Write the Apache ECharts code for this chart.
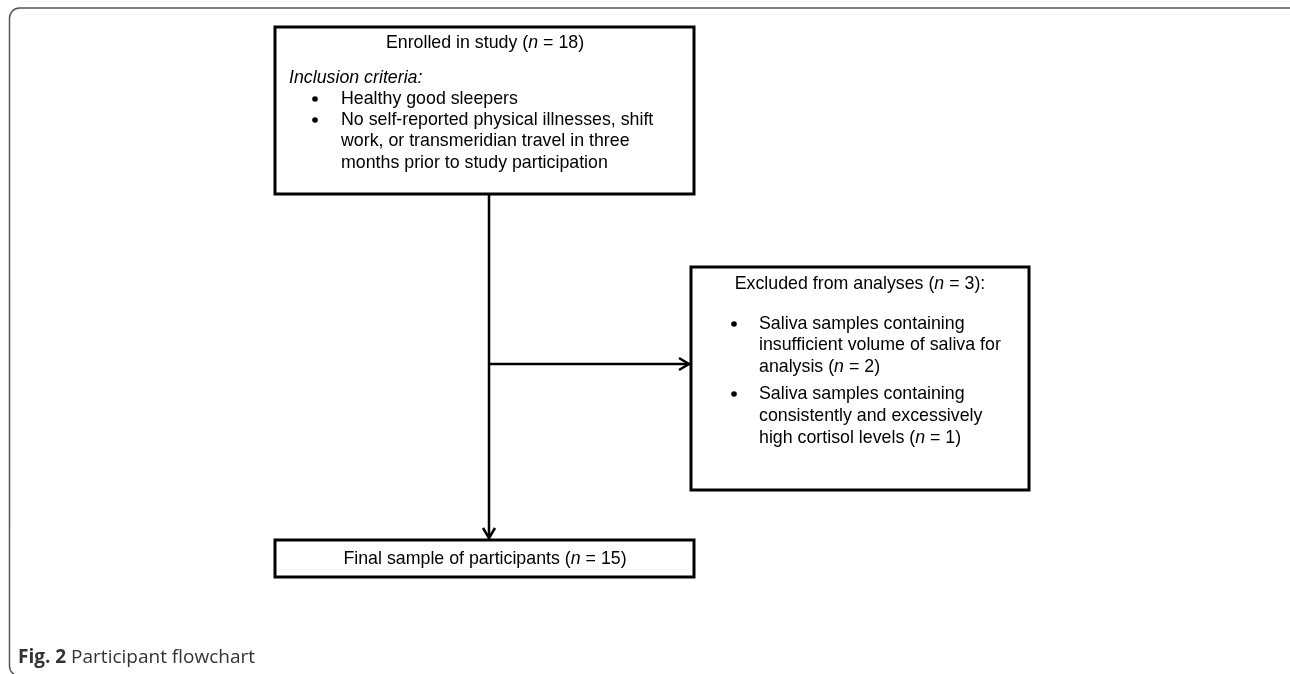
<!DOCTYPE html>
<html>
<head>
<meta charset="utf-8">
<script src="https://cdn.jsdelivr.net/npm/echarts@6/dist/echarts.min.js"></script>
<style>html,body{margin:0;padding:0;background:#fff;}#c{width:1290px;height:674px;}</style>
</head>
<body>
<div id="c"></div>
<script>
// Flowchart boxes (in chart data units)
var boxNames = ['Enrolled', 'Excluded', 'Final'];
var boxX0 = [275, 691, 275];
var boxY0 = [27, 267, 540];
var boxX1 = [694, 1029, 694];
var boxY1 = [194, 490, 577];

// Connectors (arrows)
var connX0 = [489, 489];
var connY0 = [194, 364];
var connX1 = [489, 689];
var connY1 = [538, 364];
var connArrow = [false, true];

// Text lines
var textStr = [
  'Enrolled in study ({i|n} = 18)',
  '{i|Inclusion criteria:}',
  'Healthy good sleepers',
  'No self-reported physical illnesses, shift',
  'work, or transmeridian travel in three',
  'months prior to study participation',
  'Excluded from analyses ({i|n} = 3):',
  'Saliva samples containing',
  'insufficient volume of saliva for',
  'analysis ({i|n} = 2)',
  'Saliva samples containing',
  'consistently and excessively',
  'high cortisol levels ({i|n} = 1)',
  'Final sample of participants ({i|n} = 15)'
];
var textX = [485, 289, 341, 341, 341, 341, 860, 759, 759, 759, 759, 759, 759, 485];
var textY = [43, 78, 99, 120, 141, 163, 284, 324, 345, 367, 394, 416, 438, 559];
var textAlign = ['center', 'left', 'left', 'left', 'left', 'left', 'center', 'left', 'left', 'left', 'left', 'left', 'left', 'center'];

// Bullets
var bulletX = [315, 315, 734, 734];
var bulletY = [99, 120, 324, 394];

var captionText = '{b|Fig. 2} Participant flowchart';

var chart = echarts.init(document.getElementById('c'));

var boxData = boxNames.map(function (n, i) { return [boxX0[i], boxY0[i], boxX1[i], boxY1[i]]; });
var connData = connX0.map(function (v, i) { return [connX0[i], connY0[i], connX1[i], connY1[i], connArrow[i] ? 1 : 0]; });
var textData = textStr.map(function (s, i) { return [textX[i], textY[i], i]; });
var bulletData = bulletX.map(function (v, i) { return [bulletX[i], bulletY[i]]; });

var FONT = '"Liberation Sans", Arial, sans-serif';
var FS = 17.8;

var option = {
  animation: false,
  backgroundColor: '#ffffff',
  title: {
    text: captionText,
    left: 18,
    top: 648,
    padding: 0,
    textStyle: {
      fontFamily: '"Open Sans", sans-serif',
      fontSize: 19,
      fontWeight: 'normal',
      color: '#333333',
      rich: {
        b: { fontFamily: '"Open Sans", sans-serif', fontSize: 19, fontWeight: 'bold', color: '#333333' }
      }
    }
  },
  graphic: [{
    type: 'rect',
    shape: { x: 9.5, y: 8, width: 1290, height: 668, r: 10 },
    style: { fill: 'none', stroke: '#555555', lineWidth: 1.5 },
    silent: true
  }],
  grid: { left: 0, right: 0, top: 0, bottom: 0 },
  xAxis: { type: 'value', min: 0, max: 1290, show: false },
  yAxis: { type: 'value', min: 0, max: 674, inverse: true, show: false },
  series: [
    {
      type: 'custom',
      name: 'boxes',
      clip: false,
      data: boxData,
      renderItem: function (params, api) {
        var p0 = api.coord([api.value(0), api.value(1)]);
        var p1 = api.coord([api.value(2), api.value(3)]);
        return {
          type: 'rect',
          shape: { x: p0[0], y: p0[1], width: p1[0] - p0[0], height: p1[1] - p0[1] },
          style: { fill: '#ffffff', stroke: '#000000', lineWidth: 3 }
        };
      }
    },
    {
      type: 'custom',
      name: 'connectors',
      clip: false,
      data: connData,
      renderItem: function (params, api) {
        var a = api.coord([api.value(0), api.value(1)]);
        var b = api.coord([api.value(2), api.value(3)]);
        var children = [{
          type: 'line',
          shape: { x1: a[0], y1: a[1], x2: b[0], y2: b[1] },
          style: { stroke: '#000000', lineWidth: 2.5 }
        }];
        var dx = b[0] - a[0], dy = b[1] - a[1];
        var len = Math.sqrt(dx * dx + dy * dy);
        var ux = dx / len, uy = dy / len;
        var L = 10, W = 6;
        var back = [b[0] - ux * L, b[1] - uy * L];
        children.push({
          type: 'polyline',
          shape: { points: [
            [back[0] - uy * W, back[1] + ux * W],
            [b[0], b[1]],
            [back[0] + uy * W, back[1] - ux * W]
          ] },
          style: { stroke: '#000000', lineWidth: 2.5, fill: 'none', lineJoin: 'miter' }
        });
        return { type: 'group', children: children };
      }
    },
    {
      type: 'custom',
      name: 'bullets',
      clip: false,
      data: bulletData,
      renderItem: function (params, api) {
        var p = api.coord([api.value(0), api.value(1)]);
        return {
          type: 'circle',
          shape: { cx: p[0], cy: p[1], r: 2.8 },
          style: { fill: '#000000' }
        };
      }
    },
    {
      type: 'custom',
      name: 'texts',
      clip: false,
      data: textData,
      renderItem: function (params, api) {
        var p = api.coord([api.value(0), api.value(1)]);
        var idx = api.value(2);
        return {
          type: 'text',
          x: p[0],
          y: p[1],
          style: {
            text: textStr[idx],
            fontFamily: FONT,
            fontSize: FS,
            fill: '#000000',
            align: textAlign[idx],
            verticalAlign: 'middle',
            rich: {
              i: { fontStyle: 'italic', fontFamily: FONT, fontSize: FS, fill: '#000000', color: '#000000' }
            }
          }
        };
      }
    }
  ]
};
chart.setOption(option);
</script>
</body>
</html>
